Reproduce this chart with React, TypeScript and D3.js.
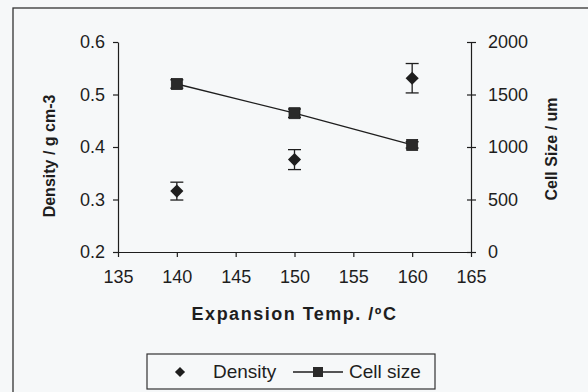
import React, { useEffect, useRef } from 'react';
import * as d3 from 'd3';

// expansion temperatures (ºC)
const temps = [140, 150, 160];
// density g/cm3 with error
const density = [0.316, 0.376, 0.531];
const densityErr = [0.017, 0.019, 0.028];
// cell size um with error
const cellSize = [1600, 1322, 1020];
const cellErr = [40, 40, 30];

const xTicks = [135, 140, 145, 150, 155, 160, 165];
const yLeftTicks = [0.2, 0.3, 0.4, 0.5, 0.6];
const yRightTicks = [0, 500, 1000, 1500, 2000];

const FONT = 'Arial, "Liberation Sans", sans-serif';
const INK = '#1e1e1e';
const FS = 18;

export default function App() {
  const ref = useRef<SVGSVGElement>(null);

  useEffect(() => {
    const svg = d3.select(ref.current);
    svg.selectAll('*').remove();

    const W = 588, H = 392;
    const left = 118, right = 471, top = 42, bottom = 252;

    svg.append('rect').attr('width', W).attr('height', H).attr('fill', '#f6f8f9');
    // outer frame (runs off the right and bottom)
    svg.append('rect')
      .attr('x', 13).attr('y', 8).attr('width', W).attr('height', H)
      .attr('fill', 'none').attr('stroke', '#333').attr('stroke-width', 1.3);

    const x = d3.scaleLinear().domain([135, 165]).range([left, right]);
    const yL = d3.scaleLinear().domain([0.2, 0.6]).range([bottom, top]);
    const yR = d3.scaleLinear().domain([0, 2000]).range([bottom, top]);

    const styleAxis = (g) => {
      g.select('.domain').attr('stroke', INK).attr('stroke-width', 1.2);
      g.selectAll('.tick line').attr('stroke', INK).attr('stroke-width', 1.2);
      g.selectAll('text').attr('fill', INK).attr('font-size', FS).attr('font-family', FONT);
    };

    // x axis
    const gx = svg.append('g').attr('transform', `translate(0,${bottom})`)
      .call(d3.axisBottom(x).tickValues(xTicks).tickSizeInner(5).tickSizeOuter(0).tickPadding(13));
    styleAxis(gx);

    // left axis
    const gl = svg.append('g').attr('transform', `translate(${left},0)`)
      .call(d3.axisLeft(yL).tickValues(yLeftTicks).tickFormat(d3.format('.1f')).tickSizeInner(5).tickSizeOuter(0).tickPadding(8));
    styleAxis(gl);

    // right axis (ticks cross the line)
    const gr = svg.append('g').attr('transform', `translate(${right},0)`)
      .call(d3.axisRight(yR).tickValues(yRightTicks).tickFormat(d3.format('d')).tickSizeInner(5).tickSizeOuter(0).tickPadding(12));
    styleAxis(gr);
    gr.selectAll('.tick line').attr('x1', -4);

    // axis titles
    svg.append('text')
      .attr('x', (left + right) / 2).attr('y', 320)
      .attr('text-anchor', 'middle').attr('font-weight', 'bold')
      .attr('font-size', 18).attr('letter-spacing', 1.5).attr('font-family', FONT).attr('fill', INK)
      .text('Expansion Temp. /ºC');
    svg.append('text')
      .attr('transform', `translate(55,156) rotate(-90)`)
      .attr('text-anchor', 'middle').attr('font-weight', 'bold')
      .attr('font-size', 16).attr('font-family', FONT).attr('fill', INK)
      .text('Density / g cm-3');
    svg.append('text')
      .attr('transform', `translate(557,${(top + bottom) / 2 + 2}) rotate(-90)`)
      .attr('text-anchor', 'middle').attr('font-weight', 'bold')
      .attr('font-size', 16).attr('font-family', FONT).attr('fill', INK)
      .text('Cell Size / um');

    const cap = 6.5;
    const errBars = (g, xs, ys, errs, yScale) => {
      xs.forEach((t, i) => {
        const cx = x(t);
        const y1 = yScale(ys[i] + errs[i]);
        const y2 = yScale(ys[i] - errs[i]);
        g.append('line').attr('x1', cx).attr('x2', cx).attr('y1', y1).attr('y2', y2);
        g.append('line').attr('x1', cx - cap).attr('x2', cx + cap).attr('y1', y1).attr('y2', y1);
        g.append('line').attr('x1', cx - cap).attr('x2', cx + cap).attr('y1', y2).attr('y2', y2);
      });
    };

    // density error bars + diamonds
    const gd = svg.append('g').attr('stroke', INK).attr('stroke-width', 1.3);
    errBars(gd, temps, density, densityErr, yL);
    const diamond = d3.symbol().type(d3.symbolDiamond2).size(110);
    svg.append('g').selectAll('path')
      .data(temps)
      .enter()
      .append('path')
      .attr('transform', (d, i) => `translate(${x(d)},${yL(density[i])})`)
      .attr('d', diamond())
      .attr('fill', INK);

    // cell size line, error bars, squares
    const line = d3.line<number>().x(d => x(d)).y((d, i) => yR(cellSize[i]));
    svg.append('path').attr('d', line(temps)).attr('fill', 'none').attr('stroke', INK).attr('stroke-width', 1.3);
    const gc = svg.append('g').attr('stroke', INK).attr('stroke-width', 1.3);
    errBars(gc, temps, cellSize, cellErr, yR);
    svg.append('g').selectAll('rect')
      .data(temps)
      .enter()
      .append('rect')
      .attr('x', d => x(d) - 5.5)
      .attr('y', (d, i) => yR(cellSize[i]) - 5.5)
      .attr('width', 11).attr('height', 11)
      .attr('fill', '#2a2a2a').attr('stroke', INK).attr('stroke-width', 0.8);

    // legend
    const lg = svg.append('g');
    lg.append('rect').attr('x', 147).attr('y', 354).attr('width', 288).attr('height', 35)
      .attr('fill', 'none').attr('stroke', '#333').attr('stroke-width', 1.2);
    lg.append('path').attr('transform', 'translate(180,372)').attr('d', d3.symbol().type(d3.symbolDiamond2).size(65)()).attr('fill', INK);
    lg.append('text').attr('x', 213).attr('y', 378).attr('font-size', 19).attr('font-family', FONT).attr('fill', INK).text('Density');
    lg.append('line').attr('x1', 293).attr('x2', 343).attr('y1', 372).attr('y2', 372).attr('stroke', INK).attr('stroke-width', 1.3);
    lg.append('rect').attr('x', 313).attr('y', 367).attr('width', 10).attr('height', 10).attr('fill', '#2a2a2a');
    lg.append('text').attr('x', 349).attr('y', 378).attr('font-size', 19).attr('font-family', FONT).attr('fill', INK).text('Cell size');
  }, []);

  return (
    <svg ref={ref} width={588} height={392} style={{ position: 'absolute', left: 0, top: 0 }} />
  );
}
